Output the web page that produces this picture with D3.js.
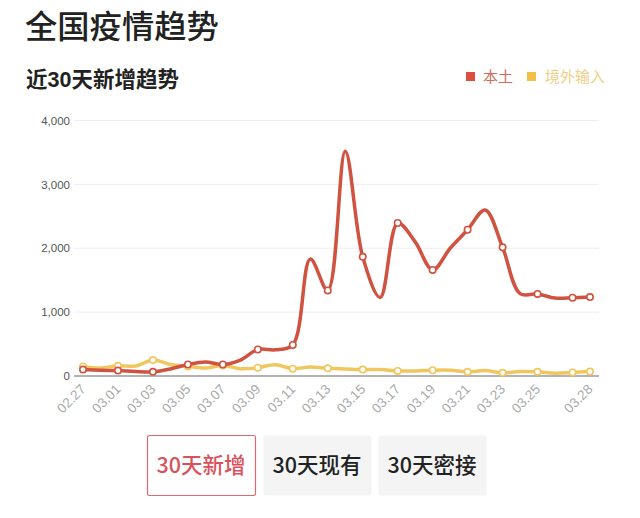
<!DOCTYPE html>
<html>
<head>
<meta charset="utf-8">
<script src="https://cdnjs.cloudflare.com/ajax/libs/d3/7.8.5/d3.min.js"></script>
<style>
  html, body { margin: 0; padding: 0; background: #fff; }
  svg { display: block; font-family: "Liberation Sans", "Noto Sans CJK SC", sans-serif; }
  .cjk { font-family: "Noto Sans CJK SC", sans-serif; }
</style>
</head>
<body>
<div id="chart"></div>
<script>
var dates = ['02.27','02.28','03.01','03.02','03.03','03.04','03.05','03.06','03.07','03.08',
  '03.09','03.10','03.11','03.12','03.13','03.14','03.15','03.16','03.17','03.18',
  '03.19','03.20','03.21','03.22','03.23','03.24','03.25','03.26','03.27','03.28'];
var local = [100,90,85,70,65,110,180,220,180,250,
  415,410,485,1830,1340,3520,1865,1230,2395,2100,
  1660,2000,2290,2600,2015,1290,1285,1220,1225,1235];
var imported = [150,125,160,155,250,180,150,125,165,115,
  130,175,115,140,120,110,100,100,80,80,
  90,90,65,85,50,70,65,45,55,70];
var tickDates = ['02.27','03.01','03.03','03.05','03.07','03.09','03.11','03.13','03.15',
  '03.17','03.19','03.21','03.23','03.25','03.28'];
var markerDates = tickDates.concat(['03.27']);
var yTicks = [0,1000,2000,3000,4000];
var seriesNames = ['本土','境外输入'];
var seriesColors = ['#cf5340','#efc75e'];
var legendColors = ['#dd4f3c','#f3bf45'];
var buttons = ['30天新增','30天现有','30天密接'];

var width = 640, height = 518;
var svg = d3.select('#chart').append('svg').attr('width', width).attr('height', height);

svg.append('text').attr('class','cjk').attr('x',25).attr('y',38)
  .style('font-size','32.3px').style('font-weight','500').style('fill','#222').text('全国疫情趋势');
svg.append('text').attr('x',26).attr('y',87)
  .style('font-size','21.5px').style('font-weight','700').style('fill','#222').text('近30天新增趋势');

// legend
var legendX = [466, 527], legendTextX = [483, 545];
seriesNames.forEach(function(name, i){
  svg.append('rect').attr('x',legendX[i]).attr('y',72).attr('width',9).attr('height',9).style('fill',legendColors[i]);
  svg.append('text').attr('class','cjk').attr('x',legendTextX[i]).attr('y',82)
    .style('font-size','15px').style('fill', i ? '#efcf85' : '#cf6a5c').text(name);
});

var x = d3.scalePoint().domain(dates).range([83, 590]);
var y = d3.scaleLinear().domain([0,4000]).range([376, 120.5]);

// y axis + grid
var yAxis = d3.axisLeft(y).tickValues(yTicks).tickFormat(d3.format(',')).tickSize(0).tickPadding(6);
var yG = svg.append('g').attr('transform','translate(76,0)').call(yAxis);
yG.select('.domain').remove();
yG.selectAll('text').style('font-size','11.5px').style('fill','#555');

svg.append('g').selectAll('line').data(yTicks.slice(1)).join('line')
  .attr('x1',74).attr('x2',599).attr('y1',function(d){return y(d);}).attr('y2',function(d){return y(d);})
  .style('stroke','#eeeeee').style('stroke-width',1);

// x axis
var xAxis = d3.axisBottom(x).tickValues(tickDates).tickSize(0).tickPadding(0);
var xG = svg.append('g').attr('transform','translate(0,376)').call(xAxis);
xG.select('.domain').attr('d','M74,0H599').style('stroke','#999').style('stroke-width',1.5);
xG.selectAll('text')
  .attr('text-anchor','end')
  .attr('dy',0).attr('y',0)
  .attr('transform','translate(3,14) rotate(-45)')
  .style('font-size','13.5px').style('fill','#aaa');

// lines, imported drawn under local
var line = d3.line().x(function(d){return x(d.date);}).y(function(d){return y(d.value);})
  .curve(d3.curveCatmullRom.alpha(0.5));

function series(values){
  return dates.map(function(d,i){ return {date:d, value:values[i]}; });
}
[imported, local].forEach(function(values){
  var color = values === local ? seriesColors[0] : seriesColors[1];
  var data = series(values);
  svg.append('path').datum(data).attr('d',line)
    .style('fill','none').style('stroke',color).style('stroke-width',3.5);
  svg.append('g').selectAll('circle')
    .data(data.filter(function(d){ return markerDates.indexOf(d.date) >= 0; }))
    .join('circle')
    .attr('cx',function(d){return x(d.date);}).attr('cy',function(d){return y(d.value);})
    .attr('r',3.2)
    .style('fill','#fff').style('stroke',color).style('stroke-width',1.6);
});

// buttons
var btnX = d3.scaleOrdinal().domain(buttons).range([147,263,378]);
var btn = svg.append('g').selectAll('g').data(buttons).join('g')
  .attr('transform',function(d){return 'translate('+btnX(d)+',435)';});
btn.append('rect').attr('x',0.5).attr('y',0.5).attr('width',108).attr('height',60).attr('rx',2)
  .style('fill',function(d,i){return i ? '#f4f4f4' : '#fff';})
  .style('stroke',function(d,i){return i ? 'none' : '#dc6a70';})
  .style('stroke-width',1.2);
btn.append('text').attr('class','cjk').attr('x',54).attr('y',38).attr('text-anchor','middle')
  .style('font-size','21.5px').style('font-weight','500')
  .style('fill',function(d,i){return i ? '#222' : '#d9525b';})
  .text(function(d){return d;});
</script>
</body>
</html>
